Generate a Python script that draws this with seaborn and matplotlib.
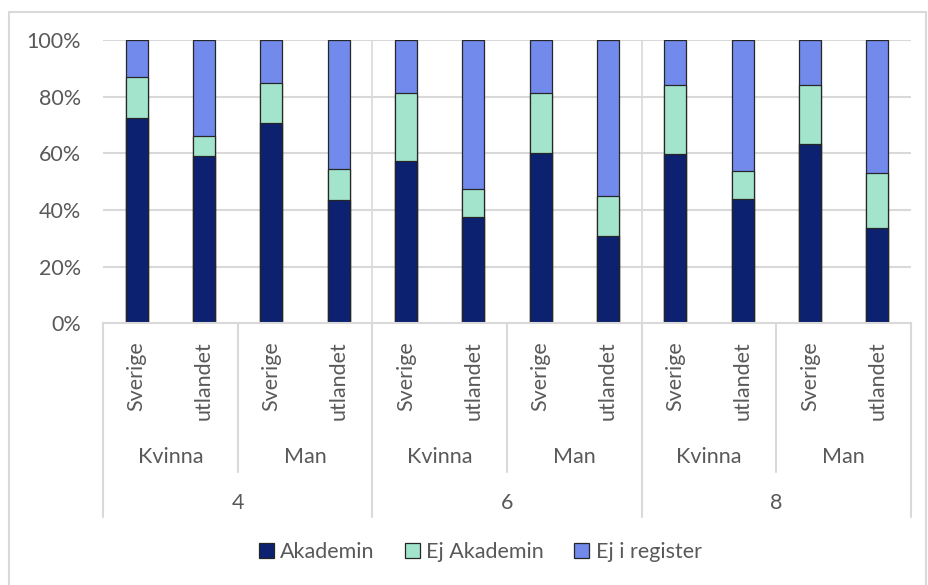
import numpy as np
import pandas as pd
import matplotlib
matplotlib.use("Agg")
import matplotlib.pyplot as plt
import matplotlib.transforms as mtransforms
from matplotlib.patches import Patch
import seaborn as sns

# data (percent)
origin = ["Sverige", "utlandet"] * 6
gender = ["Kvinna", "Man"] * 3
groups = ["4", "6", "8"]
akademin = [72.4, 59.2, 70.6, 43.4, 57.4, 37.5, 60.0, 30.7, 59.8, 43.8, 63.3, 33.8]
ej_akademin = [14.4, 6.8, 14.1, 11.0, 24.0, 10.0, 21.4, 14.1, 24.4, 10.0, 20.9, 19.1]
ej_register = [13.2, 34.0, 15.3, 45.6, 18.6, 52.5, 18.6, 55.2, 15.8, 46.2, 15.8, 47.1]
series = ["Akademin", "Ej Akademin", "Ej i register"]
colors = ["#0C2170", "#A3E4CC", "#718AEC"]

sns.set_style("white")
plt.rcParams["font.family"] = ["Lato", "DejaVu Sans"]
txt = "#595959"
grid = "#D9D9D9"
fs = 15.5

df = pd.DataFrame({"pos": np.arange(12),
                   "a": akademin,
                   "ae": np.array(akademin) + np.array(ej_akademin)})
df["all"] = df["ae"] + np.array(ej_register)

fig = plt.figure(figsize=(9.29, 5.85), dpi=100)
ax = fig.add_axes([103 / 929, 1 - 323.3 / 585, 808 / 929, 283.3 / 585])

for y in [20, 40, 60, 80, 100]:
    ax.axhline(y, color=grid, lw=1.5, zorder=0)
for x in [3.5, 7.5]:
    ax.axvline(x, color=grid, lw=1.2, zorder=0)

for col, c in zip(["all", "ae", "a"], colors[::-1]):
    sns.barplot(data=df, x="pos", y=col, color=c, width=0.33, saturation=1,
                edgecolor="#262626", linewidth=0.9, ax=ax, zorder=2)

ax.set_ylim(0, 100)
ax.set_xlim(-0.5, 11.5)
ax.set_yticks([0, 20, 40, 60, 80, 100])
ax.set_yticklabels([f"{v}%" for v in [0, 20, 40, 60, 80, 100]], color=txt, fontsize=fs)
ax.tick_params(axis="y", length=0, pad=16)
ax.set_xticks([])
ax.set_xlabel("")
ax.set_ylabel("")
for s in ["top", "right", "left"]:
    ax.spines[s].set_visible(False)
ax.spines["bottom"].set_color(grid)
ax.spines["bottom"].set_linewidth(1.5)

# multi-level category axis
tr = mtransforms.blended_transform_factory(ax.transData, ax.transAxes)
for i, lab in enumerate(origin):
    ax.text(i, -0.063, lab, rotation=90, ha="center", va="top",
            color=txt, fontsize=fs, transform=tr)
for j, lab in enumerate(gender):
    ax.text(2 * j + 0.5, -0.472, lab, ha="center", va="center",
            color=txt, fontsize=fs, transform=tr)
for k, lab in enumerate(groups):
    ax.text(4 * k + 1.5, -0.634, lab, ha="center", va="center",
            color=txt, fontsize=fs, transform=tr)
for x in [1.5, 5.5, 9.5]:
    ax.plot([x, x], [0, -0.525], color=grid, lw=1.5, transform=tr, clip_on=False)
for x in [-0.5, 3.5, 7.5, 11.5]:
    ax.plot([x, x], [0, -0.684], color=grid, lw=1.5, transform=tr, clip_on=False)

handles = [Patch(facecolor=c, edgecolor="#262626", linewidth=0.9) for c in colors]
fig.legend(handles, series, loc="center", bbox_to_anchor=(0.517, 1 - 552 / 585),
           ncol=3, frameon=False, fontsize=fs, handlelength=0.7, handleheight=0.7,
           handletextpad=0.3, columnspacing=1.4, labelcolor=txt)

# chart border
fig.patches.append(plt.Rectangle((9 / 929, -0.05), 917 / 929, 1 - 12 / 585 + 0.05,
                                 transform=fig.transFigure, fill=False,
                                 edgecolor=grid, lw=1.5))

fig.savefig("out.png", dpi=100)
